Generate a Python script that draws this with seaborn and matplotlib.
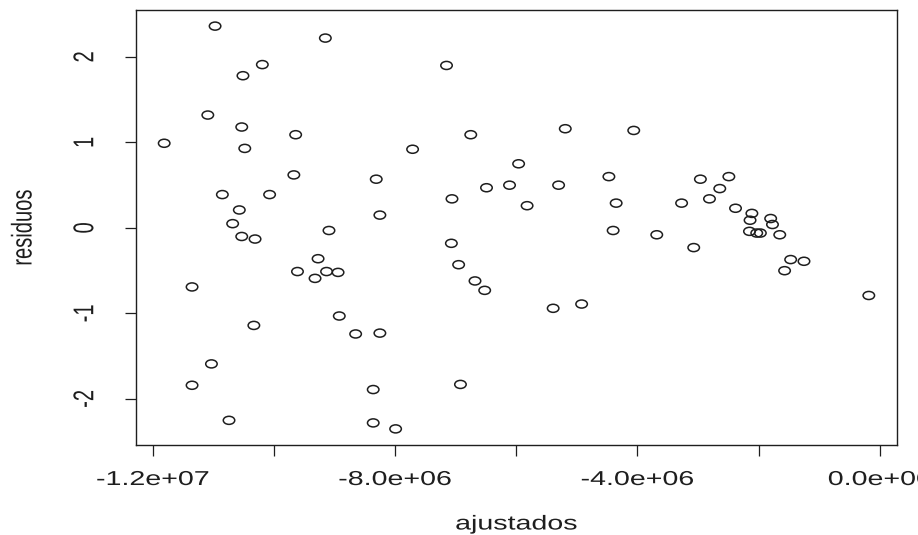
#------------------------------------------------------------------------------
# Libraries
#------------------------------------------------------------------------------

import numpy as np
import pandas as pd
import seaborn as sns
import matplotlib.pyplot as plt
from matplotlib.path import Path
from matplotlib.transforms import Affine2D
from matplotlib.patheffects import AbstractPathEffect

#------------------------------------------------------------------------------
# Data
#------------------------------------------------------------------------------

ajustados = [-10.97e6, -9.15e6, -10.19e6, -10.51e6, -11.09e6, -10.53e6, -9.64e6,
             -11.81e6, -10.48e6, -9.67e6, -8.31e6, -10.85e6, -10.07e6, -10.57e6,
             -8.25e6, -10.68e6, -9.09e6, -10.53e6, -10.31e6, -9.27e6, -9.61e6,
             -9.32e6, -9.13e6, -8.94e6, -11.35e6, -8.92e6, -10.33e6, -8.65e6,
             -8.25e6, -11.03e6, -11.35e6, -8.36e6, -10.74e6, -8.36e6, -7.99e6,
             -7.15e6, -6.75e6, -5.19e6, -4.06e6, -7.71e6, -5.96e6, -6.49e6,
             -6.11e6, -5.30e6, -4.47e6, -7.06e6, -5.82e6, -4.35e6, -4.40e6,
             -7.07e6, -6.95e6, -6.68e6, -6.52e6, -5.39e6, -4.92e6, -6.92e6,
             -2.96e6, -2.49e6, -2.64e6, -2.81e6, -3.27e6, -2.38e6, -2.11e6,
             -2.14e6, -1.80e6, -1.77e6, -2.15e6, -2.03e6, -1.97e6, -1.65e6,
             -3.68e6, -3.07e6, -1.47e6, -1.25e6, -1.57e6, -0.18e6]

residuos = [2.36, 2.22, 1.91, 1.78, 1.32, 1.18, 1.09,
            0.99, 0.93, 0.62, 0.57, 0.39, 0.39, 0.21,
            0.15, 0.05, -0.03, -0.10, -0.13, -0.36, -0.51,
            -0.59, -0.51, -0.52, -0.69, -1.03, -1.14, -1.24,
            -1.23, -1.59, -1.84, -1.89, -2.25, -2.28, -2.35,
            1.90, 1.09, 1.16, 1.14, 0.92, 0.75, 0.47,
            0.50, 0.50, 0.60, 0.34, 0.26, 0.29, -0.03,
            -0.18, -0.43, -0.62, -0.73, -0.94, -0.89, -1.83,
            0.57, 0.60, 0.46, 0.34, 0.29, 0.23, 0.17,
            0.09, 0.11, 0.04, -0.04, -0.06, -0.06, -0.08,
            -0.08, -0.23, -0.37, -0.39, -0.50, -0.79]

x_ticks = [-1.2e7, -1.0e7, -8.0e6, -6.0e6, -4.0e6, -2.0e6, 0.0]
x_tick_labels = ['-1.2e+07', '', '-8.0e+06', '', '-4.0e+06', '', '0.0e+00']
y_ticks = [-2, -1, 0, 1, 2]
y_tick_labels = ['-2', '-1', '0', '1', '2']

df = pd.DataFrame({'ajustados': ajustados, 'residuos': residuos})

#------------------------------------------------------------------------------
# Style
#------------------------------------------------------------------------------

sns.set_theme(style='white')
plt.rcParams['font.family'] = ['Liberation Sans', 'DejaVu Sans']
ink = '#1e1e1e'
fsize = 14.5
stretch_x = 1.42   # the exported R plot is stretched sideways

# open circles, squashed like in the export
oval = Path.unit_circle().transformed(Affine2D().scale(stretch_x, 1.0))

class Widen(AbstractPathEffect):
    """Draw text wider around its own centre (keeps it a real Text)."""
    def __init__(self, sx):
        super().__init__()
        self.sx = sx

    def draw_path(self, renderer, gc, tpath, affine, rgbFace=None):
        bb = tpath.get_extents(affine)
        cx = 0.5 * (bb.x0 + bb.x1)
        wide = affine + Affine2D().translate(-cx, 0).scale(self.sx, 1).translate(cx, 0)
        renderer.draw_path(gc, tpath, wide, rgbFace)

#------------------------------------------------------------------------------
# Plot
#------------------------------------------------------------------------------

fig = plt.figure(figsize=(9.18, 5.35), dpi=100)
ax = fig.add_axes([136/918, 1 - 445/535, (897 - 136)/918, (445 - 10)/535])

sns.scatterplot(data=df, x='ajustados', y='residuos', ax=ax, marker=oval,
                s=68, facecolor='none', edgecolor=ink, linewidth=1.1)

# R style 4% padding around the data range
def r_limits(v):
    lo, hi = np.min(v), np.max(v)
    pad = 0.04 * (hi - lo)
    return lo - pad, hi + pad

ax.set_xlim(*r_limits(ajustados))
ax.set_ylim(*r_limits(residuos))

ax.set_xticks(x_ticks)
ax.set_xticklabels(x_tick_labels)
ax.set_yticks(y_ticks)
ax.set_yticklabels(y_tick_labels, rotation=90, va='center')

ax.tick_params(axis='both', which='major', length=8, width=0.9, color=ink,
               labelsize=fsize, labelcolor=ink, bottom=True, left=True)
ax.tick_params(axis='x', pad=10)
ax.tick_params(axis='y', pad=22)

for side in ax.spines.values():
    side.set_color(ink)
    side.set_linewidth(1.0)

ax.set_xlabel('ajustados', fontsize=fsize, color=ink, va='center')
ax.set_ylabel('residuos', fontsize=fsize, color=ink, va='center')
ax.xaxis.set_label_coords(0.5, (445 - 524) / 435)
ax.yaxis.set_label_coords((23 - 136) / 761, 0.5)

for txt in ax.get_xticklabels() + ax.get_yticklabels() + [ax.xaxis.label, ax.yaxis.label]:
    txt.set_path_effects([Widen(stretch_x)])

fig.savefig('out.png', dpi=100)

#------------------------------------------------------------------------------
# END
